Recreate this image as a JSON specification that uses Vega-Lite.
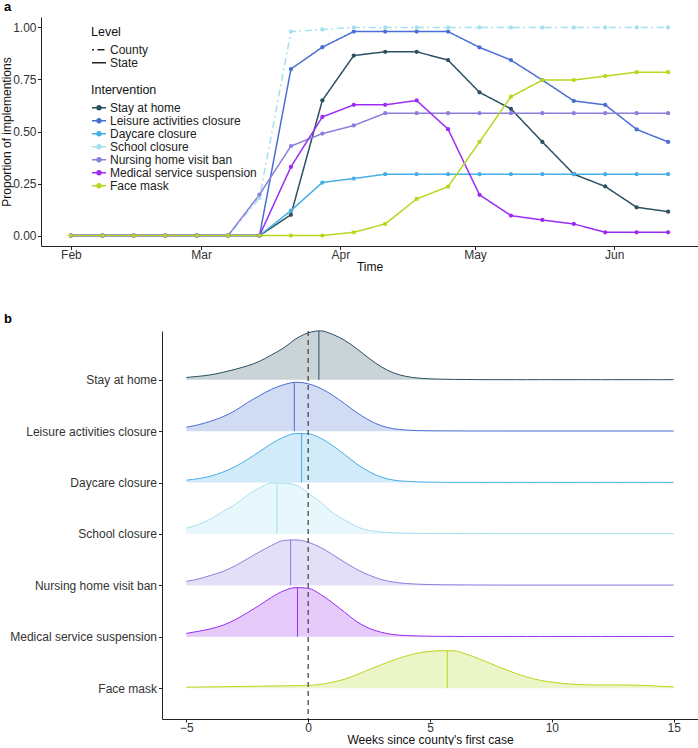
{
  "$schema": "https://vega.github.io/schema/vega-lite/v6.json",
  "padding": {"left": 0, "top": 1, "right": 0, "bottom": 0},
  "spacing": 39,
  "config": {
    "font": "Liberation Sans",
    "view": {"stroke": null},
    "axis": {"labelFontSize": 12, "titleFontSize": 12, "labelColor": "#333", "titleColor": "#111", "domainColor": "#222", "tickColor": "#222", "grid": false, "titleFontWeight": "normal", "domainWidth": 1, "tickSize": 3.5, "labelPadding": 2, "titlePadding": 3},
    "legend": {"labelFontSize": 12, "titleFontSize": 12.5, "titleFontWeight": "normal", "labelColor": "#222", "titleColor": "#111"},
    "title": {"fontSize": 13, "fontWeight": "bold", "anchor": "start", "frame": "group", "color": "#000"}
  },
  "resolve": {"scale": {"color": "independent"}, "legend": {"color": "independent"}},
  "datasets": {
    "levels": [
      {"Intervention": "Stay at home", "Level": "State"},
      {"Intervention": "Leisure activities closure", "Level": "State"},
      {"Intervention": "Daycare closure", "Level": "State"},
      {"Intervention": "School closure", "Level": "County"},
      {"Intervention": "Nursing home visit ban", "Level": "State"},
      {"Intervention": "Medical service suspension", "Level": "State"},
      {"Intervention": "Face mask", "Level": "State"}
    ],
    "lines": [
      {"date": "2020-02-01", "Stay at home": 0, "Leisure activities closure": 0, "Daycare closure": 0, "School closure": 0, "Nursing home visit ban": 0, "Medical service suspension": 0, "Face mask": 0},
      {"date": "2020-02-08", "Stay at home": 0, "Leisure activities closure": 0, "Daycare closure": 0, "School closure": 0, "Nursing home visit ban": 0, "Medical service suspension": 0, "Face mask": 0},
      {"date": "2020-02-15", "Stay at home": 0, "Leisure activities closure": 0, "Daycare closure": 0, "School closure": 0, "Nursing home visit ban": 0, "Medical service suspension": 0, "Face mask": 0},
      {"date": "2020-02-22", "Stay at home": 0, "Leisure activities closure": 0, "Daycare closure": 0, "School closure": 0, "Nursing home visit ban": 0, "Medical service suspension": 0, "Face mask": 0},
      {"date": "2020-02-29", "Stay at home": 0, "Leisure activities closure": 0, "Daycare closure": 0, "School closure": 0, "Nursing home visit ban": 0, "Medical service suspension": 0, "Face mask": 0},
      {"date": "2020-03-07", "Stay at home": 0, "Leisure activities closure": 0, "Daycare closure": 0, "School closure": 0, "Nursing home visit ban": 0, "Medical service suspension": 0, "Face mask": 0},
      {"date": "2020-03-14", "Stay at home": 0, "Leisure activities closure": 0, "Daycare closure": 0, "School closure": 0.18, "Nursing home visit ban": 0.197, "Medical service suspension": 0, "Face mask": 0},
      {"date": "2020-03-21", "Stay at home": 0.10, "Leisure activities closure": 0.80, "Daycare closure": 0.12, "School closure": 0.98, "Nursing home visit ban": 0.43, "Medical service suspension": 0.33, "Face mask": 0},
      {"date": "2020-03-28", "Stay at home": 0.65, "Leisure activities closure": 0.905, "Daycare closure": 0.255, "School closure": 0.99, "Nursing home visit ban": 0.49, "Medical service suspension": 0.57, "Face mask": 0},
      {"date": "2020-04-04", "Stay at home": 0.865, "Leisure activities closure": 0.98, "Daycare closure": 0.274, "School closure": 1, "Nursing home visit ban": 0.529, "Medical service suspension": 0.628, "Face mask": 0.016},
      {"date": "2020-04-11", "Stay at home": 0.883, "Leisure activities closure": 0.98, "Daycare closure": 0.295, "School closure": 1, "Nursing home visit ban": 0.588, "Medical service suspension": 0.628, "Face mask": 0.056},
      {"date": "2020-04-18", "Stay at home": 0.883, "Leisure activities closure": 0.98, "Daycare closure": 0.295, "School closure": 1, "Nursing home visit ban": 0.588, "Medical service suspension": 0.649, "Face mask": 0.176},
      {"date": "2020-04-25", "Stay at home": 0.843, "Leisure activities closure": 0.98, "Daycare closure": 0.295, "School closure": 1, "Nursing home visit ban": 0.588, "Medical service suspension": 0.511, "Face mask": 0.235},
      {"date": "2020-05-02", "Stay at home": 0.688, "Leisure activities closure": 0.904, "Daycare closure": 0.295, "School closure": 1, "Nursing home visit ban": 0.588, "Medical service suspension": 0.196, "Face mask": 0.45},
      {"date": "2020-05-09", "Stay at home": 0.609, "Leisure activities closure": 0.843, "Daycare closure": 0.295, "School closure": 1, "Nursing home visit ban": 0.588, "Medical service suspension": 0.096, "Face mask": 0.667},
      {"date": "2020-05-16", "Stay at home": 0.45, "Leisure activities closure": 0.747, "Daycare closure": 0.295, "School closure": 1, "Nursing home visit ban": 0.588, "Medical service suspension": 0.075, "Face mask": 0.747},
      {"date": "2020-05-23", "Stay at home": 0.295, "Leisure activities closure": 0.647, "Daycare closure": 0.295, "School closure": 1, "Nursing home visit ban": 0.588, "Medical service suspension": 0.056, "Face mask": 0.747},
      {"date": "2020-05-30", "Stay at home": 0.236, "Leisure activities closure": 0.628, "Daycare closure": 0.295, "School closure": 1, "Nursing home visit ban": 0.588, "Medical service suspension": 0.016, "Face mask": 0.766},
      {"date": "2020-06-06", "Stay at home": 0.136, "Leisure activities closure": 0.51, "Daycare closure": 0.295, "School closure": 1, "Nursing home visit ban": 0.588, "Medical service suspension": 0.016, "Face mask": 0.785},
      {"date": "2020-06-13", "Stay at home": 0.115, "Leisure activities closure": 0.45, "Daycare closure": 0.295, "School closure": 1, "Nursing home visit ban": 0.588, "Medical service suspension": 0.016, "Face mask": 0.785}
    ],
    "ridges": [
      {"w": -5, "Stay at home": 0.045, "Leisure activities closure": 0.078, "Daycare closure": 0.047, "School closure": 0.111, "Nursing home visit ban": 0.078, "Medical service suspension": 0.066, "Face mask": 0.019},
      {"w": -4.5, "Stay at home": 0.068, "Leisure activities closure": 0.126, "Daycare closure": 0.078, "School closure": 0.185, "Nursing home visit ban": 0.126, "Medical service suspension": 0.107, "Face mask": 0.022},
      {"w": -4, "Stay at home": 0.097, "Leisure activities closure": 0.195, "Daycare closure": 0.126, "School closure": 0.292, "Nursing home visit ban": 0.195, "Medical service suspension": 0.156, "Face mask": 0.025},
      {"w": -3.5, "Stay at home": 0.146, "Leisure activities closure": 0.282, "Daycare closure": 0.204, "School closure": 0.438, "Nursing home visit ban": 0.272, "Medical service suspension": 0.224, "Face mask": 0.028},
      {"w": -3, "Stay at home": 0.204, "Leisure activities closure": 0.399, "Daycare closure": 0.311, "School closure": 0.574, "Nursing home visit ban": 0.379, "Medical service suspension": 0.331, "Face mask": 0.031},
      {"w": -2.5, "Stay at home": 0.272, "Leisure activities closure": 0.554, "Daycare closure": 0.447, "School closure": 0.749, "Nursing home visit ban": 0.516, "Medical service suspension": 0.467, "Face mask": 0.035},
      {"w": -2, "Stay at home": 0.36, "Leisure activities closure": 0.691, "Daycare closure": 0.603, "School closure": 0.895, "Nursing home visit ban": 0.652, "Medical service suspension": 0.613, "Face mask": 0.039},
      {"w": -1.5, "Stay at home": 0.486, "Leisure activities closure": 0.817, "Daycare closure": 0.759, "School closure": 0.995, "Nursing home visit ban": 0.778, "Medical service suspension": 0.768, "Face mask": 0.042},
      {"w": -1, "Stay at home": 0.623, "Leisure activities closure": 0.905, "Daycare closure": 0.885, "School closure": 0.99, "Nursing home visit ban": 0.875, "Medical service suspension": 0.895, "Face mask": 0.045},
      {"w": -0.5, "Stay at home": 0.798, "Leisure activities closure": 0.953, "Daycare closure": 0.955, "School closure": 0.953, "Nursing home visit ban": 0.885, "Medical service suspension": 0.957, "Face mask": 0.049},
      {"w": 0, "Stay at home": 0.914, "Leisure activities closure": 0.924, "Daycare closure": 0.95, "School closure": 0.798, "Nursing home visit ban": 0.84, "Medical service suspension": 0.944, "Face mask": 0.053},
      {"w": 0.5, "Stay at home": 0.953, "Leisure activities closure": 0.837, "Daycare closure": 0.866, "School closure": 0.623, "Nursing home visit ban": 0.74, "Medical service suspension": 0.827, "Face mask": 0.074},
      {"w": 1, "Stay at home": 0.885, "Leisure activities closure": 0.70, "Daycare closure": 0.72, "School closure": 0.418, "Nursing home visit ban": 0.60, "Medical service suspension": 0.661, "Face mask": 0.117},
      {"w": 1.5, "Stay at home": 0.768, "Leisure activities closure": 0.535, "Daycare closure": 0.545, "School closure": 0.272, "Nursing home visit ban": 0.45, "Medical service suspension": 0.477, "Face mask": 0.175},
      {"w": 2, "Stay at home": 0.603, "Leisure activities closure": 0.36, "Daycare closure": 0.36, "School closure": 0.142, "Nursing home visit ban": 0.31, "Medical service suspension": 0.292, "Face mask": 0.263},
      {"w": 2.5, "Stay at home": 0.418, "Leisure activities closure": 0.214, "Daycare closure": 0.214, "School closure": 0.068, "Nursing home visit ban": 0.20, "Medical service suspension": 0.165, "Face mask": 0.36},
      {"w": 3, "Stay at home": 0.253, "Leisure activities closure": 0.107, "Daycare closure": 0.107, "School closure": 0.039, "Nursing home visit ban": 0.115, "Medical service suspension": 0.088, "Face mask": 0.457},
      {"w": 3.5, "Stay at home": 0.136, "Leisure activities closure": 0.049, "Daycare closure": 0.049, "School closure": 0.023, "Nursing home visit ban": 0.065, "Medical service suspension": 0.043, "Face mask": 0.545},
      {"w": 4, "Stay at home": 0.068, "Leisure activities closure": 0.023, "Daycare closure": 0.025, "School closure": 0.016, "Nursing home visit ban": 0.037, "Medical service suspension": 0.025, "Face mask": 0.623},
      {"w": 4.5, "Stay at home": 0.035, "Leisure activities closure": 0.012, "Daycare closure": 0.014, "School closure": 0.012, "Nursing home visit ban": 0.023, "Medical service suspension": 0.016, "Face mask": 0.681},
      {"w": 5, "Stay at home": 0.019, "Leisure activities closure": 0.008, "Daycare closure": 0.008, "School closure": 0.010, "Nursing home visit ban": 0.016, "Medical service suspension": 0.010, "Face mask": 0.716},
      {"w": 5.5, "Stay at home": 0.012, "Leisure activities closure": 0.007, "Daycare closure": 0.006, "School closure": 0.008, "Nursing home visit ban": 0.012, "Medical service suspension": 0.008, "Face mask": 0.73},
      {"w": 6, "Stay at home": 0.008, "Leisure activities closure": 0.006, "Daycare closure": 0.005, "School closure": 0.008, "Nursing home visit ban": 0.010, "Medical service suspension": 0.007, "Face mask": 0.726},
      {"w": 6.5, "Stay at home": 0.006, "Leisure activities closure": 0.005, "Daycare closure": 0.004, "School closure": 0.007, "Nursing home visit ban": 0.009, "Medical service suspension": 0.006, "Face mask": 0.661},
      {"w": 7, "Stay at home": 0.004, "Leisure activities closure": 0.005, "Daycare closure": 0.004, "School closure": 0.007, "Nursing home visit ban": 0.008, "Medical service suspension": 0.006, "Face mask": 0.574},
      {"w": 7.5, "Stay at home": 0.003, "Leisure activities closure": 0.005, "Daycare closure": 0.004, "School closure": 0.006, "Nursing home visit ban": 0.007, "Medical service suspension": 0.006, "Face mask": 0.477},
      {"w": 8, "Stay at home": 0.003, "Leisure activities closure": 0.005, "Daycare closure": 0.004, "School closure": 0.006, "Nursing home visit ban": 0.006, "Medical service suspension": 0.006, "Face mask": 0.379},
      {"w": 8.5, "Stay at home": 0.003, "Leisure activities closure": 0.004, "Daycare closure": 0.004, "School closure": 0.006, "Nursing home visit ban": 0.006, "Medical service suspension": 0.006, "Face mask": 0.292},
      {"w": 9, "Stay at home": 0.003, "Leisure activities closure": 0.004, "Daycare closure": 0.004, "School closure": 0.006, "Nursing home visit ban": 0.006, "Medical service suspension": 0.006, "Face mask": 0.214},
      {"w": 9.5, "Stay at home": 0.003, "Leisure activities closure": 0.004, "Daycare closure": 0.004, "School closure": 0.006, "Nursing home visit ban": 0.006, "Medical service suspension": 0.006, "Face mask": 0.156},
      {"w": 10, "Stay at home": 0.003, "Leisure activities closure": 0.004, "Daycare closure": 0.004, "School closure": 0.006, "Nursing home visit ban": 0.006, "Medical service suspension": 0.006, "Face mask": 0.117},
      {"w": 10.5, "Stay at home": 0.003, "Leisure activities closure": 0.004, "Daycare closure": 0.004, "School closure": 0.006, "Nursing home visit ban": 0.006, "Medical service suspension": 0.006, "Face mask": 0.089},
      {"w": 11, "Stay at home": 0.003, "Leisure activities closure": 0.004, "Daycare closure": 0.004, "School closure": 0.006, "Nursing home visit ban": 0.006, "Medical service suspension": 0.006, "Face mask": 0.074},
      {"w": 11.5, "Stay at home": 0.003, "Leisure activities closure": 0.004, "Daycare closure": 0.004, "School closure": 0.006, "Nursing home visit ban": 0.006, "Medical service suspension": 0.006, "Face mask": 0.064},
      {"w": 12, "Stay at home": 0.003, "Leisure activities closure": 0.004, "Daycare closure": 0.004, "School closure": 0.006, "Nursing home visit ban": 0.006, "Medical service suspension": 0.006, "Face mask": 0.062},
      {"w": 12.5, "Stay at home": 0.003, "Leisure activities closure": 0.004, "Daycare closure": 0.004, "School closure": 0.006, "Nursing home visit ban": 0.006, "Medical service suspension": 0.006, "Face mask": 0.062},
      {"w": 13, "Stay at home": 0.003, "Leisure activities closure": 0.004, "Daycare closure": 0.004, "School closure": 0.006, "Nursing home visit ban": 0.006, "Medical service suspension": 0.006, "Face mask": 0.062},
      {"w": 13.5, "Stay at home": 0.003, "Leisure activities closure": 0.004, "Daycare closure": 0.004, "School closure": 0.006, "Nursing home visit ban": 0.006, "Medical service suspension": 0.006, "Face mask": 0.058},
      {"w": 14, "Stay at home": 0.003, "Leisure activities closure": 0.004, "Daycare closure": 0.004, "School closure": 0.006, "Nursing home visit ban": 0.006, "Medical service suspension": 0.006, "Face mask": 0.049},
      {"w": 14.5, "Stay at home": 0.003, "Leisure activities closure": 0.004, "Daycare closure": 0.004, "School closure": 0.006, "Nursing home visit ban": 0.006, "Medical service suspension": 0.006, "Face mask": 0.035},
      {"w": 15, "Stay at home": 0.003, "Leisure activities closure": 0.004, "Daycare closure": 0.004, "School closure": 0.006, "Nursing home visit ban": 0.006, "Medical service suspension": 0.006, "Face mask": 0.025}
    ],
    "medians": [
      {"Intervention": "Stay at home", "median": 0.44, "mh": 0.95},
      {"Intervention": "Leisure activities closure", "median": -0.57, "mh": 0.953},
      {"Intervention": "Daycare closure", "median": -0.27, "mh": 0.96},
      {"Intervention": "School closure", "median": -1.28, "mh": 1.0},
      {"Intervention": "Nursing home visit ban", "median": -0.72, "mh": 0.89},
      {"Intervention": "Medical service suspension", "median": -0.44, "mh": 0.957},
      {"Intervention": "Face mask", "median": 5.71, "mh": 0.73}
    ]
  },
  "vconcat": [
    {
      "title": {"text": "a", "dx": -37, "offset": 3},
      "width": 657,
      "height": 229,
      "data": {"name": "lines"},
      "transform": [
        {"fold": ["Stay at home", "Leisure activities closure", "Daycare closure", "School closure", "Nursing home visit ban", "Medical service suspension", "Face mask"], "as": ["Intervention", "value"]},
        {"lookup": "Intervention", "from": {"data": {"name": "levels"}, "key": "Intervention", "fields": ["Level"]}}
      ],
      "encoding": {
        "x": {"field": "date", "type": "temporal",
          "scale": {"type": "utc", "domain": [{"year": 2020, "month": 1, "date": 25, "hours": 8, "utc": true}, {"year": 2020, "month": 6, "date": 19, "hours": 16, "utc": true}]},
          "axis": {"title": "Time", "labelPadding": 0, "titlePadding": 1, "values": [{"year": 2020, "month": 2, "date": 1, "utc": true}, {"year": 2020, "month": 3, "date": 1, "utc": true}, {"year": 2020, "month": 4, "date": 1, "utc": true}, {"year": 2020, "month": 5, "date": 1, "utc": true}, {"year": 2020, "month": 6, "date": 1, "utc": true}], "labelExpr": "utcFormat(datum.value, '%b')"}},
        "y": {"field": "value", "type": "quantitative",
          "scale": {"domain": [-0.05, 1.05], "nice": false, "zero": false},
          "axis": {"title": "Proportion of implementions", "values": [0, 0.25, 0.5, 0.75, 1], "format": ".2f", "labelPadding": 1.5, "titlePadding": 2, "maxExtent": 25.5}}
      },
      "layer": [
        {
          "mark": {"type": "line", "strokeWidth": 1.5},
          "encoding": {
            "color": {"field": "Intervention", "type": "nominal",
              "scale": {"domain": ["Stay at home", "Leisure activities closure", "Daycare closure", "School closure", "Nursing home visit ban", "Medical service suspension", "Face mask"], "range": ["#2b5062", "#4a6fd3", "#48aee6", "#a5e0ee", "#8b7fdd", "#9a2cf3", "#b5d81e"]},
              "legend": {"orient": "none", "legendX": 50, "legendY": 67, "title": "Intervention", "symbolType": "M-1,0L1,0M-0.28,0A0.28,0.28 0 1,0 0.28,0A0.28,0.28 0 1,0 -0.28,0", "symbolSize": 196, "symbolStrokeWidth": 1.5, "clipHeight": 12.6, "rowPadding": 0, "titlePadding": 5, "labelOffset": 3}},
            "strokeDash": {"field": "Level", "type": "nominal",
              "scale": {"domain": ["County", "State"], "range": [[2, 3.5, 7, 3.5], [1, 0]]},
              "legend": {"orient": "none", "legendX": 50, "legendY": 9, "title": "Level", "symbolSize": 196, "symbolStrokeColor": "#222", "symbolStrokeWidth": 1.5, "clipHeight": 12.6, "rowPadding": 0, "titlePadding": 5, "labelOffset": 3}}
          }
        },
        {
          "mark": {"type": "circle", "size": 18, "opacity": 1},
          "encoding": {
            "color": {"field": "Intervention", "type": "nominal", "legend": null}
          }
        }
      ]
    },
    {
      "title": {"text": "b", "dx": -37, "offset": 3},
      "width": 657,
      "height": 388,
      "encoding": {
        "x": {"type": "quantitative", "scale": {"domain": [-6, 16], "nice": false, "zero": false, "range": [121, 657]},
          "axis": {"values": [-5, 0, 5, 10, 15], "title": "Weeks since county's first case", "tickSize": 3, "labelPadding": 0, "titlePadding": 1}},
        "y": {"type": "quantitative", "scale": {"domain": [-0.6, 6.95], "nice": false, "zero": false},
          "axis": {"title": null, "offset": -121, "values": [0, 1, 2, 3, 4, 5, 6], "labelExpr": "['Face mask','Medical service suspension','Nursing home visit ban','School closure','Daycare closure','Leisure activities closure','Stay at home'][datum.value]"}}
      },
      "layer": [
        {
          "data": {"name": "ridges"},
          "transform": [
            {"fold": ["Stay at home", "Leisure activities closure", "Daycare closure", "School closure", "Nursing home visit ban", "Medical service suspension", "Face mask"], "as": ["Intervention", "density"]},
            {"calculate": "indexof(['Face mask','Medical service suspension','Nursing home visit ban','School closure','Daycare closure','Leisure activities closure','Stay at home'], datum.Intervention)", "as": "base"},
            {"calculate": "datum.base + datum.density", "as": "top"}
          ],
          "layer": [
            {
              "mark": {"type": "area", "interpolate": "monotone", "fillOpacity": 0.25},
              "encoding": {
                "x": {"field": "w"},
                "y": {"field": "top", "stack": null},
                "y2": {"field": "base"},
                "color": {"field": "Intervention", "type": "nominal",
                  "scale": {"domain": ["Stay at home", "Leisure activities closure", "Daycare closure", "School closure", "Nursing home visit ban", "Medical service suspension", "Face mask"], "range": ["#2b5062", "#4a6fd3", "#48aee6", "#a5e0ee", "#8b7fdd", "#9a2cf3", "#b5d81e"]},
                  "legend": null}
              }
            },
            {
              "mark": {"type": "line", "interpolate": "monotone", "strokeWidth": 1},
              "encoding": {
                "x": {"field": "w"},
                "y": {"field": "top"},
                "color": {"field": "Intervention", "type": "nominal", "legend": null}
              }
            }
          ]
        },
        {
          "data": {"name": "medians"},
          "transform": [
            {"calculate": "indexof(['Face mask','Medical service suspension','Nursing home visit ban','School closure','Daycare closure','Leisure activities closure','Stay at home'], datum.Intervention)", "as": "base"},
            {"calculate": "datum.base + datum.mh", "as": "mtop"}
          ],
          "mark": {"type": "rule", "strokeWidth": 1},
          "encoding": {
            "x": {"field": "median"},
            "y": {"field": "mtop"},
            "y2": {"field": "base"},
            "color": {"field": "Intervention", "type": "nominal", "legend": null}
          }
        },
        {
          "data": {"values": [{"z": 0}]},
          "mark": {"type": "rule", "strokeDash": [5, 4], "color": "#555", "strokeWidth": 1.4},
          "encoding": {"x": {"field": "z"}}
        }
      ]
    }
  ]
}
